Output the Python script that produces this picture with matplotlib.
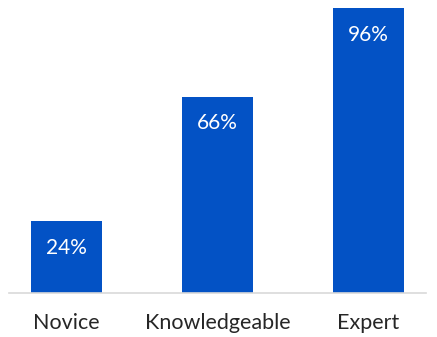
import matplotlib
matplotlib.use("Agg")
from matplotlib import pyplot as plt

# Данные
categories = ["Novice", "Knowledgeable", "Expert"]
values = [24, 66, 96]
labels = ["24%", "66%", "96%"]

plt.rcParams['font.family'] = ['Lato', 'DejaVu Sans']

fig = plt.figure(figsize=(4.37, 3.37), dpi=100)
ax = fig.add_axes([9 / 437, 44.5 / 337, 417 / 437, 292.5 / 337])

x = range(len(categories))
bars = ax.bar(x, values, width=0.465, color="#0352C5")

for bar, text in zip(bars, labels):
    ax.annotate(text, (bar.get_x() + bar.get_width() / 2, bar.get_height()),
                xytext=(0, -19), textcoords="offset points",
                ha="center", va="center", color="white", fontsize=15)

ax.set_xlim(-0.38, 2.38)
ax.set_ylim(0, 98.8)
ax.set_xticks(list(x))
ax.set_xticklabels(categories, fontsize=15.5, color="#262626")
ax.tick_params(axis="x", length=0, pad=15)
ax.set_yticks([])
for side in ["top", "right", "left"]:
    ax.spines[side].set_visible(False)
ax.spines["bottom"].set_color("#D9D9D9")
ax.spines["bottom"].set_linewidth(1.2)

fig.savefig("out.png", dpi=100)
